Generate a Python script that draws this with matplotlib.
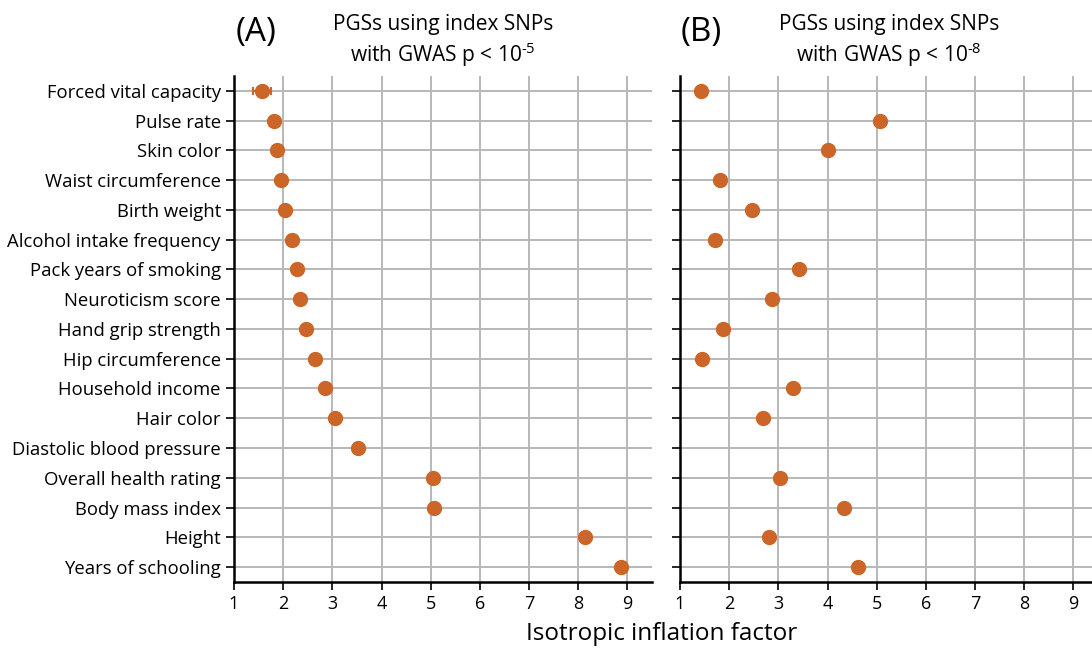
import numpy as np
import matplotlib
matplotlib.use("Agg")
import matplotlib.pyplot as plt

plt.rcParams['font.family'] = ['Open Sans', 'DejaVu Sans']
plt.rcParams['mathtext.fontset'] = 'custom'
plt.rcParams['mathtext.rm'] = 'Open Sans'

traits = ['Forced vital capacity', 'Pulse rate', 'Skin color', 'Waist circumference',
          'Birth weight', 'Alcohol intake frequency', 'Pack years of smoking',
          'Neuroticism score', 'Hand grip strength', 'Hip circumference',
          'Household income', 'Hair color', 'Diastolic blood pressure',
          'Overall health rating', 'Body mass index', 'Height', 'Years of schooling']
infl_a = [1.57, 1.81, 1.88, 1.96, 2.04, 2.18, 2.28, 2.34, 2.47, 2.65,
          2.85, 3.06, 3.53, 5.05, 5.07, 8.13, 8.86]
err_a = [0.19, 0, 0, 0, 0, 0, 0, 0, 0, 0, 0, 0, 0, 0, 0, 0, 0]
infl_b = [1.43, 5.06, 4.0, 1.81, 2.46, 1.71, 3.42, 2.87, 1.87, 1.45,
          3.29, 2.69, np.nan, 3.03, 4.33, 2.81, 4.61]

col = '#cc6528'
fig = plt.figure(figsize=(10.92, 6.48), dpi=100)
axA = fig.add_axes([0.2143, 0.1019, 0.3828, 0.7809])
axB = fig.add_axes([0.6227, 0.1019, 0.3828, 0.7809])
y = np.arange(len(traits))

for ax, vals, label, exp in [(axA, infl_a, '(A)', '-5'), (axB, infl_b, '(B)', '-8')]:
    ax.set_xlim(1, 9.5)
    ax.set_ylim(16.5, -0.5)
    ax.set_xticks(range(1, 10))
    ax.set_yticks(y)
    ax.grid(True, color='#b8b8b8', linewidth=1.4)
    ax.set_axisbelow(True)
    for s in ['top', 'right']:
        ax.spines[s].set_visible(False)
    ax.spines['left'].set_linewidth(1.8)
    ax.spines['bottom'].set_linewidth(1.8)
    ax.spines['left'].set_zorder(3)
    ax.tick_params(axis='both', length=6, width=1.2, labelsize=13, colors='black')
    ax.set_title('PGSs using index SNPs\nwith GWAS p < 10$^{\\text{' + exp + '}}$',
                 fontsize=15, pad=10, linespacing=1.25)
    ax.text(0.052, 1.085, label, transform=ax.transAxes, fontsize=24,
            ha='center', va='center')

axA.errorbar(infl_a, y, xerr=err_a, fmt='o', color=col, markersize=10,
             capsize=3, elinewidth=1.5, capthick=1.5, zorder=4)
axA.set_yticklabels(traits, fontsize=13.3)
axB.plot(infl_b, y, 'o', color=col, markersize=10, zorder=4)
axB.set_yticklabels([])

fig.text(0.606, 0.012, 'Isotropic inflation factor', ha='center', fontsize=17.5)

fig.savefig('out.png', dpi=100)
